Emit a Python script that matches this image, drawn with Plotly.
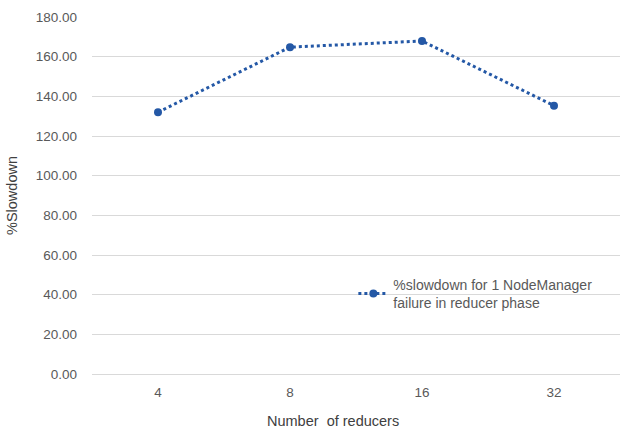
import plotly.graph_objects as go

reducers = ["4", "8", "16", "32"]
slowdown = [132.0, 164.8, 167.9, 135.3]
y_ticks = [0, 20, 40, 60, 80, 100, 120, 140, 160, 180]

font_family = "Liberation Sans, Arial, sans-serif"
text_color = "#595959"
title_color = "#404040"
line_color = "#2458A6"

fig = go.Figure()
fig.add_trace(go.Scatter(
    x=reducers,
    y=slowdown,
    mode="lines+markers",
    name="%slowdown for 1 NodeManager<br>failure in reducer phase",
    line=dict(color=line_color, width=3, dash="dot"),
    marker=dict(color=line_color, size=8),
))

# x-axis title, centred on the whole chart rather than the plot area
fig.add_annotation(
    text="Number  of reducers",
    xref="paper", yref="paper",
    x=0.456, y=-0.132,
    xanchor="center", yanchor="middle",
    showarrow=False,
    font=dict(size=14.5, color=title_color),
)

fig.update_layout(
    width=640,
    height=433,
    margin=dict(l=92, r=20, t=17, b=59),
    paper_bgcolor="white",
    plot_bgcolor="white",
    font=dict(family=font_family, size=13, color=text_color),
    showlegend=True,
    legend=dict(
        x=0.495, y=0.295, xanchor="left", yanchor="top",
        bgcolor="rgba(0,0,0,0)",
        font=dict(size=14, color=text_color),
    ),
    xaxis=dict(
        type="category",
        range=[-0.5, 3.5],
        showgrid=False,
        showline=False,
        ticks="",
        ticklabelstandoff=8,
        tickfont=dict(size=13.5),
        automargin=False,
    ),
    yaxis=dict(
        range=[0, 180],
        tickvals=y_ticks,
        ticktext=[f"{v:.2f}" for v in y_ticks],
        gridcolor="#d9d9d9",
        gridwidth=1,
        zeroline=True,
        zerolinecolor="#d9d9d9",
        zerolinewidth=1,
        showline=False,
        ticks="",
        ticklabelstandoff=14,
        tickfont=dict(size=13.5),
        automargin=False,
        title=dict(text="%Slowdown", font=dict(size=14.5, color=title_color), standoff=14),
    ),
)

fig.write_html("out.html")
